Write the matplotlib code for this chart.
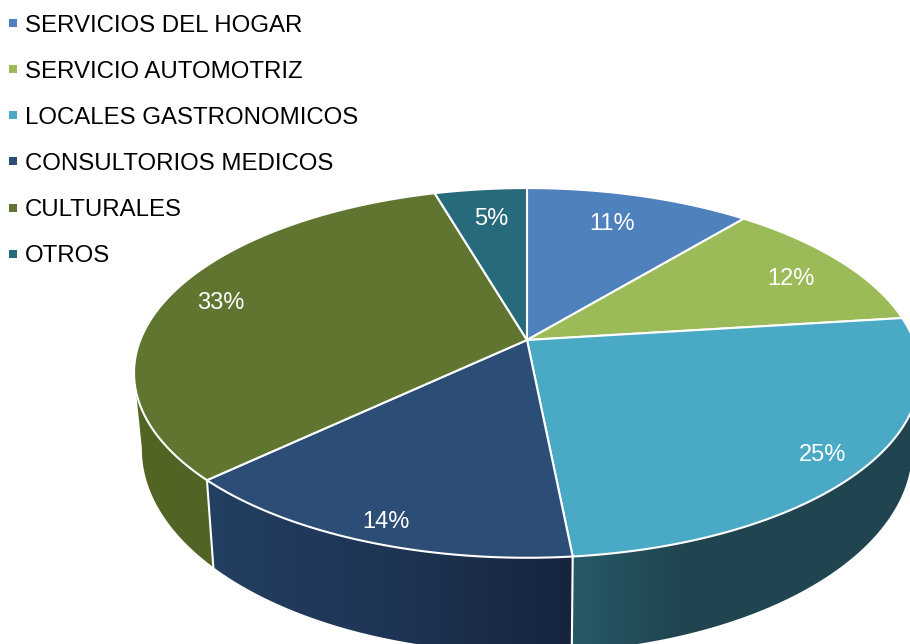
import numpy as np
import matplotlib
matplotlib.use('Agg')
import matplotlib.pyplot as plt
from matplotlib.colors import to_rgb
from matplotlib.lines import Line2D
from matplotlib.patches import Polygon

categories = ["SERVICIOS DEL HOGAR", "SERVICIO AUTOMOTRIZ", "LOCALES GASTRONOMICOS",
              "CONSULTORIOS MEDICOS", "CULTURALES", "OTROS"]
values = [11.0, 12.0, 25.45, 14.49, 32.55, 4.51]
top_colors = ['#4F81BD', '#9BBB59', '#4AA9C4', '#2C4D75', '#5F7530', '#276A7C']

# wall shading: slice index -> (x pixel, colour) stops
wall_stops = {
    2: [(572, '#265A68'), (680, '#204550'), (910, '#204550')],
    3: [(205, '#233F61'), (400, '#1E3454'), (572, '#16243E')],
    4: [(130, '#526424'), (215, '#536526')],
}
label_angle = [18.4, 62.8, 129.5, 200.0, 285.4, 352.3]
label_radius = [0.787, 0.82, 0.892, 0.907, 0.854, 0.79]

# pie geometry in picture pixels
CX, CY = 527, 340
SX, SY, K = 386.7, 179.0, 0.178
WALL_SX, WALL_SY, WALL_Y = 0.98, 1.10, 413.0

plt.rcParams['font.family'] = ['Liberation Sans', 'DejaVu Sans']


def project(theta, r=1.0):
    """Pie-plane point (clockwise degrees from top) to picture pixels, with perspective."""
    t = np.radians(theta)
    u, v = r * np.sin(t), r * np.cos(t)
    w = 1 + K * v
    return CX + SX * u / w, CY - SY * v / w


def wall_point(theta):
    x, y = project(theta)
    return CX + WALL_SX * (x - CX), WALL_Y + WALL_SY * (y - CY)


fig = plt.figure(figsize=(9.1, 6.44), dpi=100)
ax = fig.add_axes([0, 0, 1, 1])

edges = np.concatenate([[0], np.cumsum(values)]) * 3.6

# side walls: horizontal gradient image clipped to the wall outline
# the walls stop where the rim turns away (100 and 260 degrees)
for i, stops in wall_stops.items():
    ang = np.linspace(max(edges[i], 100), min(edges[i + 1], 260), 150)
    if i == 2:
        ang = np.r_[np.linspace(100, edges[i], 20)[:-1], np.linspace(edges[i], edges[i + 1], 130)]
        ang = ang[ang >= 100]
    tx, ty = project(ang)
    bx, by = wall_point(ang)
    outline = np.column_stack([np.r_[tx, bx[::-1]], np.r_[ty, by[::-1]]])
    patch = Polygon(outline, closed=True, fc='none', ec='none', transform=ax.transData)
    ax.add_patch(patch)
    px = np.arange(int(outline[:, 0].min()) - 1, int(outline[:, 0].max()) + 2)
    sx = [s[0] for s in stops]
    rgb = np.array([to_rgb(s[1]) for s in stops])
    grad = np.stack([np.interp(px, sx, rgb[:, c]) for c in range(3)], axis=-1)[None, :, :]
    im = ax.imshow(grad, extent=(px[0], px[-1], 700, 300), aspect='auto',
                   interpolation='bilinear', zorder=1)
    im.set_clip_path(patch)

# white seams between walls
for a in (edges[3], edges[4]):
    x0, y0 = project(a)
    x1, y1 = wall_point(a)
    ax.plot([x0, x1], [y0, y1], color='white', lw=1.5, zorder=2)

# top face
for i, val in enumerate(values):
    ang = np.linspace(edges[i], edges[i + 1], 120)
    xs, ys = project(ang)
    pts = [(CX, CY)] + list(zip(xs, ys))
    ax.add_patch(Polygon(pts, closed=True, fc=top_colors[i], ec='white', lw=1.5,
                         joinstyle='round', zorder=3))
    lx, ly = project(label_angle[i], label_radius[i])
    ax.text(lx, ly + 2, f"{round(val)}%", color='white', fontsize=17,
            ha='center', va='center', zorder=4)

ax.set_xlim(0, 910)
ax.set_ylim(644, 0)
ax.axis('off')

handles = [Line2D([], [], ls='none', marker='s', ms=5.5, color=c, mew=0) for c in top_colors]
ax.legend(handles, categories, loc='upper left', bbox_to_anchor=(0.5 / 910, 1 - 10 / 644),
          bbox_transform=ax.transAxes, frameon=False, fontsize=17.3, labelspacing=1.0,
          handlelength=0.6, handletextpad=0.2, borderpad=0.2, borderaxespad=0,
          labelcolor='black')

fig.savefig('out.png', dpi=100)
